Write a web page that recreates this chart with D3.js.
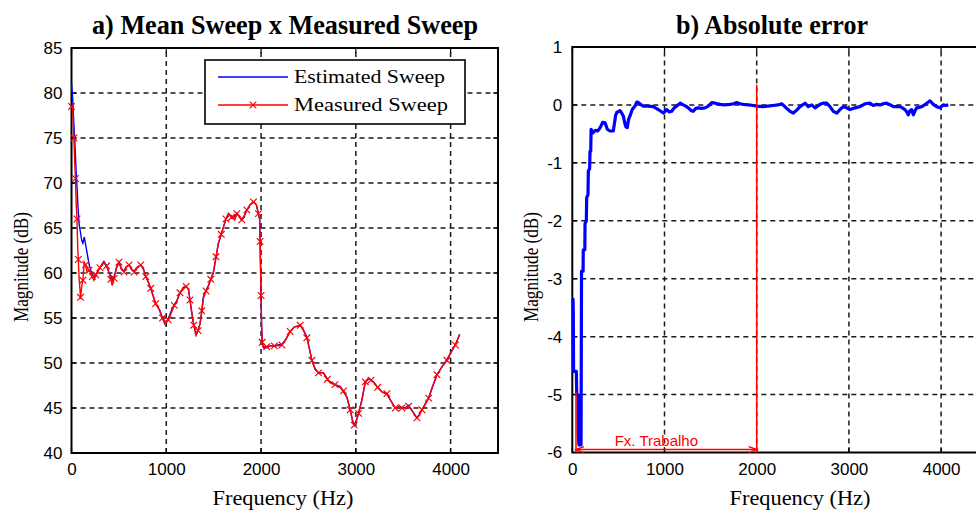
<!DOCTYPE html>
<html>
<head>
<meta charset="utf-8">
<script src="https://cdn.jsdelivr.net/npm/d3@7"></script>
<style>
  html, body { margin: 0; padding: 0; background: #fff; }
  svg { display: block; }
  .tick text { font-family: "Liberation Sans", Arial, sans-serif; font-size: 17px; fill: #000; }
  .serif { font-family: "Liberation Serif", "Times New Roman", serif; fill: #000; }
</style>
</head>
<body>
<svg id="chart" width="976" height="512"></svg>
<script>
// ---- Panel a) : mean (estimated) sweep vs measured sweep, magnitude in dB ----
const measFreq = [0,12,25,35,42,50,58,65,72,80,95,108,120,135,148,165,185,200,220,236,255,271,300,342,370,394,415,430,450,475,501,525,554,580,607,635,660,690,731,760,784,810,836,860,888,928,960,988,1020,1058,1085,1111,1145,1181,1210,1234,1250,1269,1290,1315,1335,1357,1375,1392,1420,1445,1470,1498,1525,1550,1580,1603,1630,1656,1690,1727,1744,1770,1797,1825,1850,1885,1920,1950,1972,1985,1990,1995,2000,2005,2012,2025,2060,2100,2140,2180,2220,2260,2307,2350,2413,2450,2483,2510,2536,2570,2606,2659,2700,2729,2780,2835,2870,2906,2941,2965,2983,3005,3029,3064,3100,3134,3160,3187,3230,3275,3328,3370,3416,3450,3486,3520,3557,3600,3645,3670,3698,3730,3768,3810,3856,3910,3962,4015,4050,4096];
const measDb = [78.5,78.6,75,72,70.5,67.5,66,63,61.5,59.5,57.3,58.5,59.2,61.2,60.9,60.1,60.3,60.1,59.6,59.2,59.8,60.1,60.6,61.2,60.8,60.1,59.3,58.6,59.4,60.6,61.2,60.5,60.1,60.7,60.9,60.4,60.1,60.6,60.9,60.4,59.6,59,58.3,57.5,56.6,55.9,55,54.3,54.8,55.7,56.4,56.9,57.8,58.4,58.5,58.2,57,55.6,54.2,53.1,53.6,54.4,55.8,57.2,58,58.6,59.3,60.1,61.8,63.3,64.3,65.1,66,66.6,66.2,66,66.6,66.3,65.9,66.4,67,67.6,67.9,67.6,66.6,66,63.5,60.5,57.5,54.5,52.3,51.8,51.8,51.9,51.9,51.9,52,52.6,53.5,54,54.2,53.6,52.8,51.6,50.3,49.4,48.9,48.9,48.2,47.8,47.6,47.4,46.9,46.2,44.8,43.6,43.1,43.5,44.4,45.9,47.9,48.2,48.1,47.9,47.3,46.8,46.6,45.8,45,45.1,45,45,45.2,44.6,43.9,44.2,44.8,45.4,46.1,47.4,48.7,49.6,50.3,51.4,52,53.2];
const estDb = [81,79.5,76.5,74.6,73,71,69.7,68,66.8,65.5,64.5,63.6,63.3,64,63.2,62.2,61,60.4,59.8,59.4,59.6,60.1,60.6,61.3,60.8,60.1,59.6,59.2,59.6,60.6,61.2,60.5,60.2,60.7,60.9,60.4,60.2,60.6,60.9,60.4,59.6,59,58.3,57.5,56.6,55.9,55,54.3,54.9,55.9,56.5,56.9,57.8,58.4,58.5,58.2,57,55.6,54.2,53.1,53.6,54.4,55.8,57.4,58.1,58.6,59.3,60.1,61.8,63.3,64.3,65.1,66,66.6,66.3,66.2,66.6,66.3,65.9,66.4,67,67.6,67.9,67.6,66.6,66,63.5,60.5,57.5,54.5,52.3,51.7,51.7,51.9,51.9,52,52.1,52.6,53.5,54,54.2,53.6,52.9,51.6,50.3,49.3,48.9,48.9,48.2,47.9,47.6,47.3,46.8,46.2,44.8,43.6,43.1,43.6,44.4,45.9,47.9,48.3,48.1,47.9,47.3,46.8,46.5,45.8,45,45.1,45.1,45,45.3,44.6,43.9,44.3,44.8,45.4,46.1,47.4,48.7,49.6,50.4,51.4,52,53.2];
const magTicks = [40,45,50,55,60,65,70,75,80,85];
const freqTicks = [0,1000,2000,3000,4000];

// ---- Panel b) : absolute error between the two sweeps ----
const errFreq = [0,8,11,14,44,48,62,65,72,95,100,117,119,136,138,152,156,170,174,188,192,200,204,225,250,275,300,330,356,380,407,445,470,482,517,535,553,572,582,597,610,626,650,680,700,716,740,770,820,879,933,987,1024,1050,1078,1105,1132,1170,1204,1230,1258,1290,1312,1340,1367,1400,1439,1475,1512,1550,1602,1650,1710,1750,1783,1819,1855,1910,1963,2000,2060,2120,2180,2230,2271,2300,2325,2361,2397,2434,2470,2524,2560,2597,2632,2687,2720,2759,2795,2831,2868,2903,2939,2976,3012,3066,3120,3174,3228,3265,3300,3337,3370,3410,3450,3482,3520,3554,3580,3608,3628,3644,3662,3681,3699,3718,3735,3790,3820,3844,3862,3880,3898,3916,3952,3988,4024,4050,4078];
const errDb = [-3.35,-3.35,-3.6,-4.6,-4.6,-5.0,-5.0,-5.66,-5.87,-5.87,-2.87,-2.87,-2.5,-2.5,-2.05,-2.0,-1.6,-1.55,-1.14,-1.1,-0.8,-0.8,-0.42,-0.48,-0.44,-0.45,-0.4,-0.3,-0.31,-0.42,-0.45,-0.45,-0.18,-0.13,-0.1,-0.14,-0.19,-0.33,-0.38,-0.39,-0.25,-0.19,-0.08,-0.02,0.05,0.04,0.01,-0.02,-0.02,-0.03,-0.08,-0.14,-0.08,-0.12,-0.11,-0.05,-0.02,0.03,0,-0.02,-0.05,-0.1,-0.11,-0.06,-0.05,-0.06,-0.05,-0.02,0.04,0.03,0.01,0,0.01,0.02,0.04,0.02,0.01,0,-0.01,-0.02,-0.03,-0.02,-0.01,0,0.02,-0.02,-0.06,-0.11,-0.14,-0.09,-0.03,0.03,-0.03,0,-0.05,0.01,0.03,0.03,-0.03,-0.11,-0.14,-0.08,-0.03,-0.05,-0.08,-0.05,-0.03,0.02,0.03,-0.01,0.01,0,0.02,0.03,0,-0.03,-0.03,-0.03,-0.05,-0.08,-0.12,-0.17,-0.1,-0.08,-0.17,-0.1,-0.05,-0.03,0,0.03,0.05,0.07,0.04,0.01,-0.03,-0.05,0,-0.01,0];
const errTicks = [-6,-5,-4,-3,-2,-1,0,1];
const bandStart = 40, bandEnd = 2000;   // working band (Hz)
const bandLabel = "Fx. Trabalho";

const svg = d3.select("#chart");

function panel(opt) {
  const g = svg.append("g");
  const x = d3.scaleLinear().domain([0, 4500]).range(opt.xr);
  const y = d3.scaleLinear().domain(opt.yd).range(opt.yr);
  const [x0, x1] = opt.xr, [yb, yt] = opt.yr;

  // dashed grid
  const grid = g.append("g").attr("stroke", "#1a1a1a").attr("stroke-width", 1.5)
    .attr("stroke-dasharray", "5,4");
  grid.selectAll("line.v").data(opt.xticks.filter(d => d > 0)).join("line")
    .attr("x1", d => x(d)).attr("x2", d => x(d)).attr("y1", yb).attr("y2", yt);
  grid.selectAll("line.h").data(opt.yticks.slice(1, -1)).join("line")
    .attr("x1", x0).attr("x2", x1).attr("y1", d => y(d)).attr("y2", d => y(d));

  // axes (labels only, frame drawn separately)
  g.append("g").attr("transform", `translate(0,${yb})`)
    .call(d3.axisBottom(x).tickValues(opt.xticks).tickSize(0).tickPadding(10).tickFormat(d3.format("d")))
    .call(a => a.select(".domain").remove());
  g.append("g").attr("transform", `translate(${x0},0)`)
    .call(d3.axisLeft(y).tickValues(opt.yticks).tickSize(0).tickPadding(opt.ypad)
      .tickFormat(d => String(d)))
    .call(a => a.select(".domain").remove());

  // inward tick marks + frame
  const tk = g.append("g").attr("stroke", "#000").attr("stroke-width", 1.2);
  opt.xticks.forEach(d => {
    tk.append("line").attr("x1", x(d)).attr("x2", x(d)).attr("y1", yb).attr("y2", yb - 5);
    tk.append("line").attr("x1", x(d)).attr("x2", x(d)).attr("y1", yt).attr("y2", yt + 5);
  });
  opt.yticks.forEach(d => {
    tk.append("line").attr("x1", x0).attr("x2", x0 + 5).attr("y1", y(d)).attr("y2", y(d));
    tk.append("line").attr("x1", x1).attr("x2", x1 - 5).attr("y1", y(d)).attr("y2", y(d));
  });
  g.append("rect").attr("x", x0).attr("y", yt).attr("width", x1 - x0).attr("height", yb - yt)
    .attr("fill", "none").attr("stroke", "#000").attr("stroke-width", 2);

  // titles
  g.append("text").attr("class", "serif").attr("x", opt.titleX).attr("y", 34)
    .attr("text-anchor", "middle").attr("font-size", 28).attr("font-weight", "bold")
    .attr("textLength", opt.titleLen).attr("lengthAdjust", "spacingAndGlyphs").text(opt.title);
  g.append("text").attr("class", "serif").attr("x", opt.xlabX).attr("y", 505)
    .attr("text-anchor", "middle").attr("font-size", 22)
    .attr("textLength", 141).attr("lengthAdjust", "spacingAndGlyphs").text("Frequency (Hz)");
  g.append("text").attr("class", "serif")
    .attr("transform", `translate(${opt.ylabX},267) rotate(-90)`)
    .attr("text-anchor", "middle").attr("font-size", 22)
    .attr("textLength", 110).attr("lengthAdjust", "spacingAndGlyphs").text("Magnitude (dB)");
  return { g, x, y };
}

// ---- panel a ----
const A = panel({
  xr: [71.5, 498], yd: [40, 85], yr: [453, 48], xticks: freqTicks, yticks: magTicks, ypad: 9,
  title: "a) Mean Sweep x Measured Sweep", titleX: 285, titleLen: 386, xlabX: 283, ylabX: 28
});
const lineA = d3.line().x(d => A.x(d[0])).y(d => A.y(d[1]));
const est = measFreq.map((f, i) => [f, estDb[i]]);
const meas = measFreq.map((f, i) => [f, measDb[i]]);
A.g.append("path").attr("d", lineA(est)).attr("fill", "none").attr("stroke", "#0000ff").attr("stroke-width", 1.4);
A.g.append("path").attr("d", lineA(meas)).attr("fill", "none").attr("stroke", "#ff0000").attr("stroke-width", 1.4);
// "x" markers on every second sample of the measured sweep
const xMark = (cx, cy, s) => `M${cx - s},${cy - s}L${cx + s},${cy + s}M${cx - s},${cy + s}L${cx + s},${cy - s}`;
A.g.append("path").attr("d", meas.filter((d, i) => i % 2 === 0).map(d => xMark(A.x(d[0]), A.y(d[1]), 3.3)).join(""))
  .attr("fill", "none").attr("stroke", "#ff0000").attr("stroke-width", 1.2);

// legend
const lg = A.g.append("g");
lg.append("rect").attr("x", 205).attr("y", 60).attr("width", 260).attr("height", 64)
  .attr("fill", "#fff").attr("stroke", "#000").attr("stroke-width", 1.6);
lg.append("line").attr("x1", 218).attr("x2", 288).attr("y1", 77).attr("y2", 77)
  .attr("stroke", "#0000ff").attr("stroke-width", 1.4);
lg.append("line").attr("x1", 218).attr("x2", 288).attr("y1", 105).attr("y2", 105)
  .attr("stroke", "#ff0000").attr("stroke-width", 1.4);
lg.append("path").attr("d", xMark(253, 105, 3.3)).attr("stroke", "#ff0000").attr("stroke-width", 1.2);
lg.append("text").attr("class", "serif").attr("x", 294).attr("y", 83).attr("font-size", 19)
  .attr("textLength", 151).attr("lengthAdjust", "spacingAndGlyphs").text("Estimated Sweep");
lg.append("text").attr("class", "serif").attr("x", 294).attr("y", 111).attr("font-size", 19)
  .attr("textLength", 154).attr("lengthAdjust", "spacingAndGlyphs").text("Measured Sweep");

// ---- panel b ----
const B = panel({
  xr: [572.3, 987.2], yd: [-6, 1], yr: [452.5, 47], xticks: freqTicks, yticks: errTicks, ypad: 10,
  title: "b) Absolute error", titleX: 772, titleLen: 192, xlabX: 800, ylabX: 538
});
const lineB = d3.line().x(d => B.x(d[0])).y(d => B.y(d[1]));
B.g.append("path").attr("d", lineB(errFreq.map((f, i) => [f, errDb[i]])))
  .attr("fill", "none").attr("stroke", "#0000ff").attr("stroke-width", 3.2).attr("stroke-linejoin", "round");

// working band annotation
const ann = B.g.append("g").attr("stroke", "#ff0000").attr("stroke-width", 1.5).attr("fill", "none");
const yArrow = B.y(-5.95);
ann.append("line").attr("x1", B.x(bandStart)).attr("x2", B.x(bandStart)).attr("y1", B.y(-4.95)).attr("y2", B.y(-6));
ann.append("line").attr("x1", B.x(bandEnd)).attr("x2", B.x(bandEnd)).attr("y1", B.y(0.35)).attr("y2", B.y(-6));
ann.append("line").attr("x1", B.x(bandStart)).attr("x2", B.x(bandEnd)).attr("y1", yArrow).attr("y2", yArrow);
const xa = B.x(bandStart), xb = B.x(bandEnd);
ann.append("path").attr("d", `M${xa + 8},${yArrow - 3}L${xa},${yArrow}L${xa + 8},${yArrow + 3}`);
ann.append("path").attr("d", `M${xb - 8},${yArrow - 3}L${xb},${yArrow}L${xb - 8},${yArrow + 3}`);
B.g.append("text").attr("x", (xa + xb) / 2 - 10).attr("y", yArrow - 4)
  .attr("text-anchor", "middle").attr("font-family", "Liberation Sans, Arial, sans-serif")
  .attr("font-size", 15).attr("fill", "#ff0000").text(bandLabel);
</script>
</body>
</html>
